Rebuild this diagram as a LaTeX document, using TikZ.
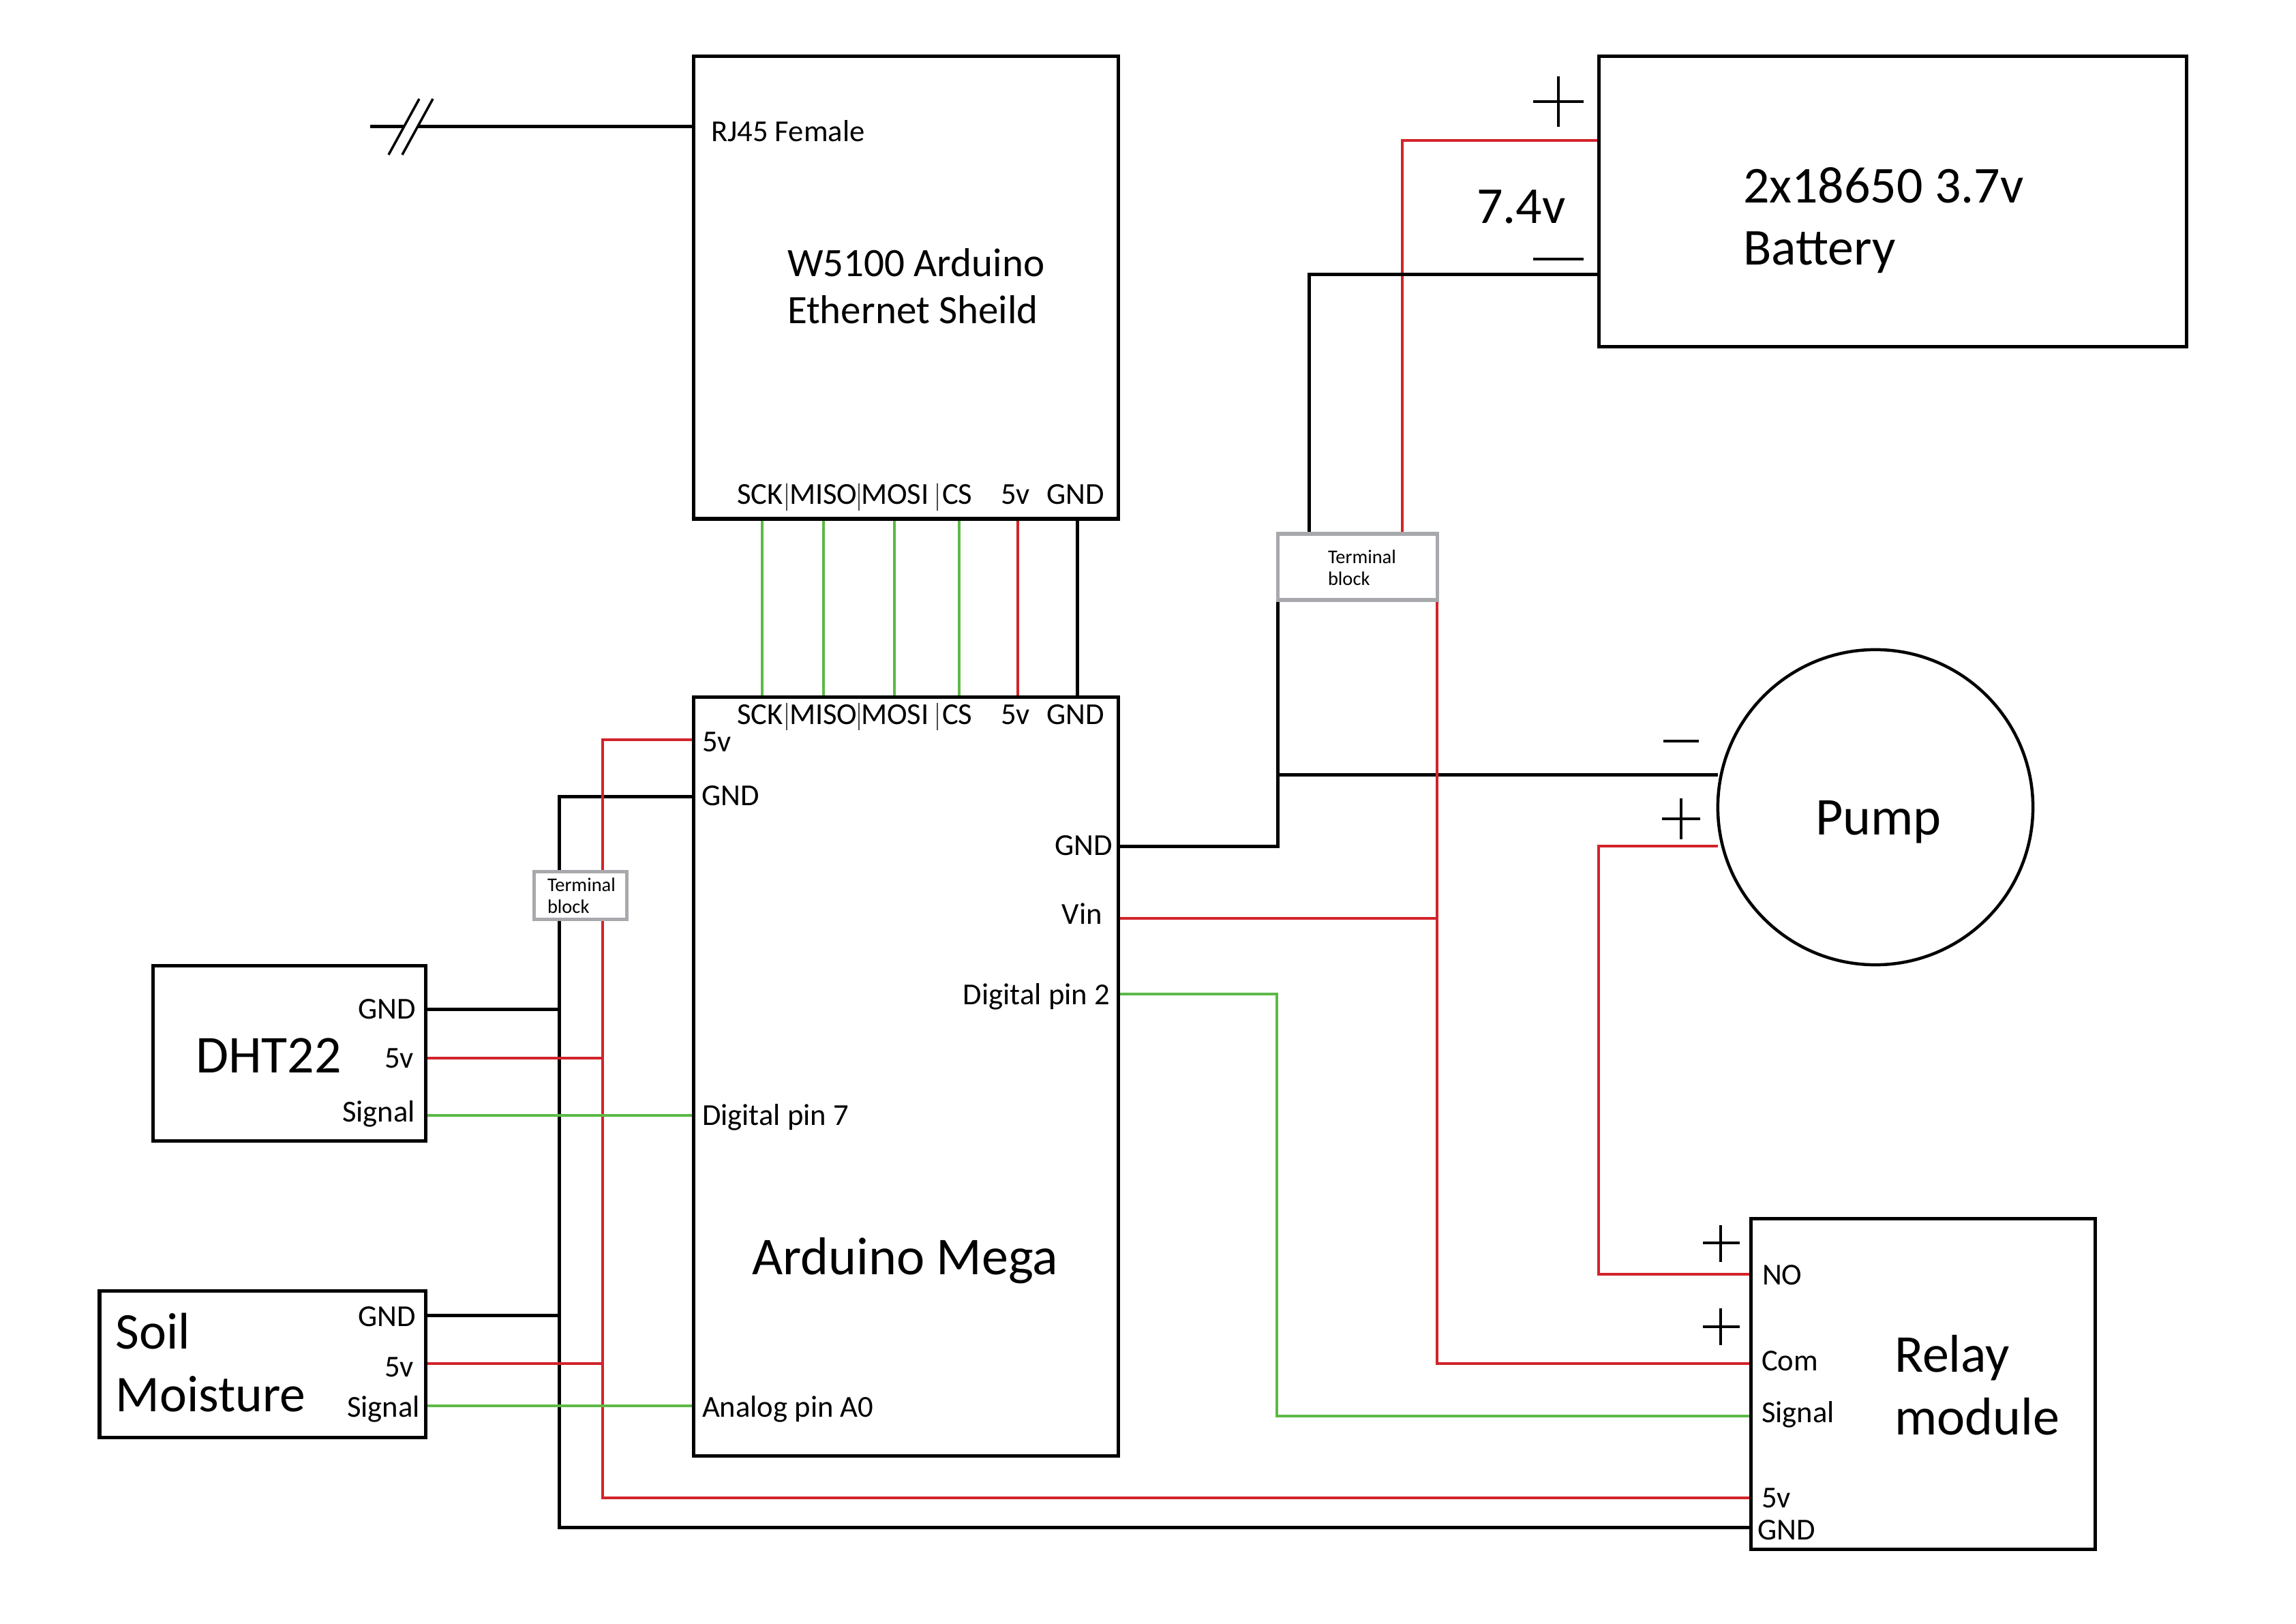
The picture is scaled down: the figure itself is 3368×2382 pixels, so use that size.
\documentclass[tikz,border=0pt]{standalone}
\usepackage{fontspec}
\usetikzlibrary{backgrounds}
\setmainfont{Carlito}
\definecolor{wred}{HTML}{D2232A}
\definecolor{wgreen}{HTML}{5CB947}
\definecolor{tbgray}{HTML}{A7A9AC}
\tikzset{
  boxnode/.style={draw=black,line width=5pt*0.2845,rectangle,inner sep=0pt,outer sep=0pt,anchor=north west},
  tbnode/.style={draw=tbgray,fill=white,line width=5pt*0.2845,rectangle,inner sep=0pt,outer sep=0pt,anchor=north west},
  pump/.style={draw=black,line width=4.5pt*0.2845,circle,inner sep=0pt,outer sep=0pt},
  bw/.style={black,line width=5pt*0.2845,line join=miter},
  rw/.style={wred,line width=4.5pt*0.2845,line join=miter},
  gw/.style={wgreen,line width=4.5pt*0.2845,line join=miter},
  sign/.style={black,line width=3.5pt*0.2845},
  sep/.style={black!70,line width=0.8pt},
  lab/.style={inner sep=0pt,outer sep=0pt,anchor=base west,xshift=-0.02cm,font=\fontsize{12.7}{16}\selectfont},
  labr/.style={lab,anchor=base east,xshift=0.04cm},
  midt/.style={inner sep=0pt,outer sep=0pt,anchor=base west,align=left,xshift=-0.02cm,yshift=-0.02cm,font=\fontsize{16.8}{19.9}\selectfont},
  bigt/.style={inner sep=0pt,outer sep=0pt,anchor=base west,align=left,xshift=-0.03cm,font=\fontsize{22.2}{26}\selectfont},
  tbt/.style={inner sep=0pt,outer sep=0pt,anchor=base west,align=left,font=\fontsize{8.1}{9.1}\selectfont},
}
\newcommand{\mkbox}[6]{\node[#1,minimum width={(#5-#3)*0.01cm},minimum height={(#6-#4)*0.01cm}] (#2) at (#3,#4) {};}
\begin{document}
\begin{tikzpicture}[x=0.01cm,y=-0.01cm]
\useasboundingbox (0,0) rectangle (3368,2382);
\coordinate (eth) at (543,186);
\coordinate (ethA) at (593,186);
\coordinate (ethB) at (613,186);
\coordinate (s1a) at (570,227); \coordinate (s1b) at (615,145);
\coordinate (s2a) at (590,227); \coordinate (s2b) at (635,145);
\coordinate (blackBusTop) at (820,1168);
\coordinate (blackBusBot) at (820,2240);
\coordinate (redBusTop) at (884,1085);
\coordinate (redBusBot) at (884,2197);
\coordinate (blackBatCorner) at (1920,403);
\coordinate (redBatCorner) at (2057,206);
\coordinate (pwrBlackJ) at (1874,1136);
\coordinate (pwrBlackC) at (1874,1241);
\coordinate (pwrRedJ) at (2108,1347);
\coordinate (pwrRedC) at (2108,2000);
\coordinate (sigC1) at (1873,1458);
\coordinate (sigC2) at (1873,2077);
\coordinate (noC1) at (2345,1241);
\coordinate (noC2) at (2345,1869);

\mkbox{boxnode}{shield}{1017}{83}{1640}{761}
\mkbox{boxnode}{mega}{1017}{1022}{1640}{2135}
\mkbox{boxnode}{battery}{2345}{83}{3207}{509}
\mkbox{boxnode}{dht}{224}{1416}{624}{1673}
\mkbox{boxnode}{soil}{146}{1893}{624}{2108}
\mkbox{boxnode}{relay}{2568}{1787}{3073}{2272}
\mkbox{tbnode}{tbL}{783}{1278}{919}{1348}
\mkbox{tbnode}{tbR}{1874}{783}{2108}{880}
\node[pump,minimum size=4.62cm] (pumpc) at (2751,1184) {};

\begin{pgfonlayer}{background}
% ethernet stub
\draw[bw] (eth) -- (ethA);
\draw[bw] (ethB) -- (shield.west |- ethB);
\draw[sign] (s1a) -- (s1b);
\draw[sign] (s2a) -- (s2b);
% shield to mega
\draw[gw] (shield.south -| 1118,0) -- (mega.north -| 1118,0);
\draw[gw] (shield.south -| 1208,0) -- (mega.north -| 1208,0);
\draw[gw] (shield.south -| 1312,0) -- (mega.north -| 1312,0);
\draw[gw] (shield.south -| 1407,0) -- (mega.north -| 1407,0);
\draw[rw] (shield.south -| 1493,0) -- (mega.north -| 1493,0);
\draw[bw] (shield.south -| 1580,0) -- (mega.north -| 1580,0);
% left buses
\draw[bw] (mega.west |- blackBusTop) -- (blackBusTop) -- (blackBusBot) -- (relay.west |- blackBusBot);
\draw[rw] (mega.west |- redBusTop) -- (redBusTop) -- (redBusBot) -- (relay.west |- redBusBot);
\draw[bw] (dht.east |- 0,1480) -- (blackBusTop |- 0,1480);
\draw[rw] (dht.east |- 0,1552) -- (redBusTop |- 0,1552);
\draw[gw] (dht.east |- 0,1636) -- (mega.west |- 0,1636);
\draw[bw] (soil.east |- 0,1929) -- (blackBusTop |- 0,1929);
\draw[rw] (soil.east |- 0,2000) -- (redBusTop |- 0,2000);
\draw[gw] (soil.east |- 0,2062) -- (mega.west |- 0,2062);
% battery
\draw[rw] (battery.west |- redBatCorner) -- (redBatCorner) -- (tbR.north -| redBatCorner);
\draw[bw] (battery.west |- blackBatCorner) -- (blackBatCorner) -- (tbR.north -| blackBatCorner);
% power from terminal block
\draw[bw] (tbR.south west) -- (pwrBlackC) -- (mega.east |- pwrBlackC);
\draw[bw] (pwrBlackJ) -- (pumpc.west |- pwrBlackJ);
\draw[rw] (tbR.south east) -- (pwrRedC) -- (relay.west |- pwrRedC);
\draw[rw] (mega.east |- pwrRedJ) -- (pwrRedJ);
\draw[gw] (mega.east |- sigC1) -- (sigC1) -- (sigC2) -- (relay.west |- sigC2);
\draw[rw] (pumpc.west |- noC1) -- (noC1) -- (noC2) -- (relay.west |- noC2);
\end{pgfonlayer}

% polarity signs
\draw[sign] (2249,149) -- (2323,149); \draw[sign] (2286,112) -- (2286,186);
\draw[sign] (2249,380) -- (2323,380);
\draw[sign] (2440,1087) -- (2492,1087);
\draw[sign] (2438,1201) -- (2494,1201); \draw[sign] (2466,1171) -- (2466,1231);
\draw[sign] (2498,1823) -- (2552,1823); \draw[sign] (2524,1797) -- (2524,1851);
\draw[sign] (2498,1946) -- (2552,1946); \draw[sign] (2524,1919) -- (2524,1973);
% pin separators
\draw[sep] (1154,709) -- (1154,749);
\draw[sep] (1260,709) -- (1260,749);
\draw[sep] (1375,709) -- (1375,749);
\draw[sep] (1154,1031) -- (1154,1071);
\draw[sep] (1260,1031) -- (1260,1071);
\draw[sep] (1375,1031) -- (1375,1071);

% labels
\node[lab] (tRJ) at (1045,208) {RJ45 Female};
\node[midt] (tEth) at (1157,473) {W5100 Arduino\\Ethernet Sheild};
\node[lab] (tS1) at (1083,740) {SCK};
\node[lab] (tS2) at (1160,740) {MISO};
\node[lab] (tS3) at (1265,740) {MOSI};
\node[lab] (tS4) at (1384,740) {CS};
\node[lab] (tS5) at (1470,740) {5v};
\node[lab] (tS6) at (1537,740) {GND};
\node[lab] (tM1) at (1083,1062) {SCK};
\node[lab] (tM2) at (1160,1062) {MISO};
\node[lab] (tM3) at (1265,1062) {MOSI};
\node[lab] (tM4) at (1384,1062) {CS};
\node[lab] (tM5) at (1470,1062) {5v};
\node[lab] (tM6) at (1537,1062) {GND};
\node[lab] (tM7) at (1032,1102) {5v};
\node[lab] (tM8) at (1031,1181) {GND};
\node[lab] (tM9) at (1032,1650) {Digital pin 7};
\node[lab] (tM10) at (1032,2078) {Analog pin A0};
\node[labr] (tM11) at (1630,1254) {GND};
\node[labr] (tM12) at (1615,1355) {Vin};
\node[labr] (tM13) at (1626,1473) {Digital pin 2};
\node[bigt] (tMega) at (1106,1869) {Arduino Mega};
\node[bigt] (tDht) at (290,1573) {DHT22};
\node[labr] (tD1) at (608,1494) {GND};
\node[labr] (tD2) at (605,1566) {5v};
\node[labr] (tD3) at (607,1645) {Signal};
\node[bigt,font=\fontsize{21.5}{26}\selectfont] (tSoil) at (173,2070) {Soil\\Moisture};
\node[labr] (tO1) at (608,1945) {GND};
\node[labr] (tO2) at (605,2019) {5v};
\node[labr] (tO3) at (614,2078) {Signal};
\node[tbt] (tTbL) at (803,1339) {Terminal\\block};
\node[tbt] (tTbR) at (1948,859) {Terminal\\block};
\node[bigt,font=\fontsize{21.6}{26}\selectfont] (tBat) at (2560,389) {2x18650 3.7v\\Battery};
\node[bigt,font=\fontsize{21.6}{26}\selectfont] (tV) at (2169,328) {7.4v};
\node[bigt] (tPump) at (2666,1224) {Pump};
\node[lab] (tR1) at (2587,1884) {NO};
\node[lab] (tR2) at (2586,2010) {Com};
\node[lab] (tR3) at (2586,2086) {Signal};
\node[lab] (tR4) at (2586,2211) {5v};
\node[lab] (tR5) at (2580,2258) {GND};
\node[bigt] (tRelay) at (2782,2104) {Relay\\module};
\end{tikzpicture}
\end{document}
